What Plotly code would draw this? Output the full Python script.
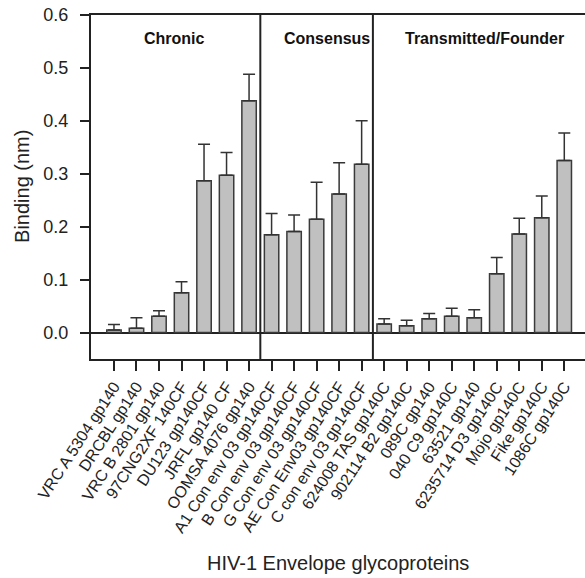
import plotly.graph_objects as go

categories = [
    "VRC A 5304 gp140", "DRCBL gp140", "VRC B 2801 gp140", "97CNG2XF 140CF",
    "DU123 gp140CF", "JRFL gp140 CF", "OOMSA 4076 gp140",
    "A1 Con env 03 gp140CF", "B Con env 03 gp140CF", "G Con env 03 gp140CF",
    "AE Con Env03 gp140CF", "C con env 03 gp140CF",
    "624008 TAS gp140C", "902114 B2 gp140C", "089C gp140", "040 C9 gp140C",
    "63521 gp140", "6235714 D3 gp140C", "Mojo gp140C", "Fike gp140C", "1086C gp140C",
]
binding = [0.005, 0.008, 0.031, 0.075, 0.287, 0.297, 0.438,
           0.185, 0.191, 0.214, 0.262, 0.318,
           0.016, 0.013, 0.026, 0.031, 0.028, 0.111, 0.186, 0.217, 0.325]
error_plus = [0.010, 0.020, 0.010, 0.021, 0.069, 0.043, 0.050,
              0.040, 0.031, 0.070, 0.059, 0.082,
              0.010, 0.010, 0.010, 0.015, 0.015, 0.031, 0.030, 0.041, 0.052]
groups = ["Chronic", "Consensus", "Transmitted/Founder"]
group_label_x = [2.7, 9.46, 16.46]
group_bounds = [6.5, 11.5]
y_ticks = [0.0, 0.1, 0.2, 0.3, 0.4, 0.5, 0.6]

x = list(range(len(categories)))
FONT = "Liberation Sans, Arial, sans-serif"
DARK = "#222222"

fig = go.Figure()
fig.add_trace(go.Bar(
    x=x, y=binding, width=0.64,
    marker=dict(color="#c0c0c0", line=dict(color="#3a3a3a", width=1.5)),
    error_y=dict(type="data", array=error_plus, symmetric=False,
                 arrayminus=[0] * len(binding),
                 color="#333333", thickness=1.5, width=6),
    showlegend=False,
))

for b in group_bounds:
    fig.add_shape(type="line", x0=b, x1=b, y0=-0.05, y1=0.6,
                  xref="x", yref="y", line=dict(color=DARK, width=2))

for g, gx in zip(groups, group_label_x):
    fig.add_annotation(x=gx, y=0.555, xref="x", yref="y", text="<b>%s</b>" % g,
                       showarrow=False, font=dict(family=FONT, size=16, color="#111"),
                       xanchor="center", yanchor="middle")

fig.add_annotation(x=0.5, y=-0.593, xref="paper", yref="paper",
                   text="HIV-1 Envelope glycoproteins", showarrow=False,
                   font=dict(family=FONT, size=20, color="#222"),
                   xanchor="center", yanchor="middle")
fig.add_annotation(x=-0.1397, y=0.503, xref="paper", yref="paper",
                   text="Binding (nm)", showarrow=False, textangle=-90,
                   font=dict(family=FONT, size=20, color="#222"),
                   xanchor="center", yanchor="middle")

fig.update_layout(
    width=585, height=578,
    margin=dict(l=91, r=0, t=15, b=219, autoexpand=False),
    paper_bgcolor="white", plot_bgcolor="white",
    font=dict(family=FONT, color="#222"),
    bargap=0.36,
)
fig.update_xaxes(
    range=[-1.02, 20.92], tickmode="array", tickvals=x, ticktext=categories,
    tickangle=-57, tickfont=dict(family=FONT, size=16, color="#222"),
    ticks="outside", ticklen=10, tickwidth=2, tickcolor=DARK,
    showline=True, linecolor=DARK, linewidth=2, mirror=True,
    showgrid=False, zeroline=False, automargin=False,
)
fig.update_yaxes(
    range=[-0.05, 0.6], tickmode="array", tickvals=y_ticks,
    ticktext=["%.1f" % v for v in y_ticks],
    tickfont=dict(family=FONT, size=18, color="#222"),
    ticks="outside", ticklen=9, tickwidth=2, tickcolor=DARK,
    ticklabelstandoff=8,
    showline=True, linecolor=DARK, linewidth=2, mirror=False,
    showgrid=False, zeroline=True, zerolinecolor=DARK, zerolinewidth=1.5,
    automargin=False,
)

fig.write_html("out.html")
